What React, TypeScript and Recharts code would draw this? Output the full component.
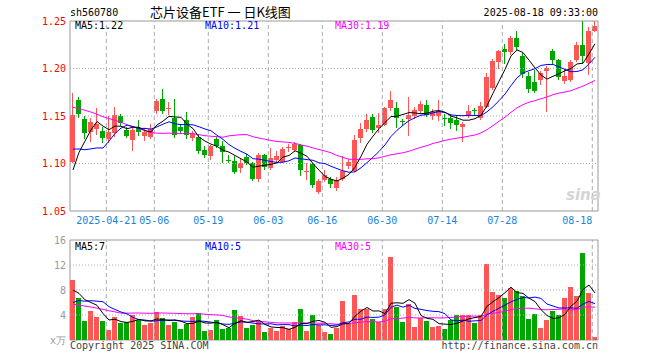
import React from "react";
import { ComposedChart, Bar, Line, XAxis, YAxis, ReferenceLine, ReferenceArea } from "recharts";

const MONO = "'DejaVu Sans Mono', monospace";
const RED = "#ff5555";
const GREEN = "#00a600";

const dates = [
  "04-11","04-14","04-15","04-16","04-17","04-18","04-21","04-22","04-23","04-24",
  "04-25","04-28","04-29","04-30","05-06","05-07","05-08","05-09","05-12","05-13",
  "05-14","05-15","05-16","05-19","05-20","05-21","05-22","05-23","05-26","05-27",
  "05-28","05-29","05-30","06-03","06-04","06-05","06-06","06-09","06-10","06-11",
  "06-12","06-13","06-16","06-17","06-18","06-19","06-20","06-23","06-24","06-25",
  "06-26","06-27","06-30","07-01","07-02","07-03","07-04","07-07","07-08","07-09",
  "07-10","07-11","07-14","07-15","07-16","07-17","07-18","07-21","07-22","07-23",
  "07-24","07-25","07-28","07-29","07-30","07-31","08-01","08-04","08-05","08-06",
  "08-07","08-08","08-11","08-12","08-13","08-14","08-15","08-18"
];

const opens = [
  1.102,1.167,1.147,1.133,1.136,1.134,1.126,1.132,1.150,1.135,
  1.125,1.137,1.129,1.128,1.155,1.168,1.157,1.148,1.138,1.146,
  1.127,1.128,1.114,1.108,1.126,1.118,1.104,1.103,1.095,1.107,
  1.100,1.084,1.109,1.095,1.104,1.102,1.116,1.114,1.119,1.091,
  1.099,1.070,1.083,1.084,1.074,1.084,1.097,1.092,1.127,1.136,
  1.149,1.137,1.141,1.158,1.158,1.145,1.147,1.150,1.155,1.162,
  1.150,1.150,1.148,1.148,1.146,1.138,1.150,1.156,1.148,1.160,
  1.180,1.207,1.221,1.217,1.232,1.213,1.192,1.186,1.188,1.197,
  1.218,1.209,1.187,1.188,1.209,1.225,1.206,1.240
];
const highs = [
  1.174,1.170,1.150,1.148,1.158,1.138,1.150,1.160,1.152,1.138,
  1.137,1.146,1.137,1.142,1.168,1.178,1.165,1.168,1.141,1.154,
  1.134,1.130,1.118,1.119,1.128,1.124,1.109,1.108,1.105,1.110,
  1.102,1.111,1.110,1.116,1.113,1.117,1.121,1.123,1.120,1.101,
  1.100,1.084,1.093,1.086,1.086,1.108,1.105,1.130,1.143,1.152,
  1.152,1.153,1.160,1.176,1.165,1.147,1.170,1.160,1.166,1.167,
  1.157,1.167,1.152,1.152,1.150,1.144,1.162,1.158,1.165,1.195,
  1.210,1.220,1.226,1.234,1.239,1.216,1.196,1.198,1.197,1.203,
  1.221,1.210,1.200,1.209,1.228,1.250,1.244,1.250
];
const lows = [
  1.100,1.148,1.126,1.123,1.130,1.122,1.122,1.128,1.140,1.127,
  1.113,1.129,1.124,1.126,1.152,1.152,1.151,1.127,1.131,1.126,
  1.124,1.110,1.106,1.104,1.116,1.101,1.101,1.089,1.090,1.098,
  1.082,1.080,1.093,1.093,1.101,1.100,1.112,1.112,1.087,1.083,
  1.074,1.068,1.080,1.074,1.071,1.082,1.094,1.091,1.122,1.133,
  1.132,1.132,1.139,1.155,1.137,1.139,1.129,1.147,1.152,1.149,
  1.146,1.145,1.140,1.136,1.134,1.123,1.148,1.150,1.146,1.158,
  1.177,1.200,1.205,1.214,1.220,1.190,1.174,1.174,1.183,1.154,
  1.205,1.188,1.184,1.186,1.207,1.205,1.193,1.238
];
const closes = [
  1.151,1.152,1.132,1.144,1.142,1.127,1.133,1.151,1.143,1.129,
  1.135,1.133,1.133,1.136,1.166,1.155,1.158,1.130,1.134,1.130,
  1.132,1.113,1.109,1.118,1.118,1.112,1.103,1.091,1.101,1.101,
  1.084,1.109,1.096,1.106,1.108,1.115,1.117,1.121,1.093,1.092,
  1.077,1.082,1.088,1.078,1.083,1.092,1.102,1.125,1.136,1.146,
  1.135,1.141,1.158,1.167,1.148,1.144,1.151,1.156,1.163,1.151,
  1.154,1.155,1.147,1.143,1.141,1.142,1.155,1.155,1.161,1.191,
  1.208,1.218,1.217,1.232,1.223,1.194,1.178,1.176,1.195,1.201,
  1.209,1.191,1.192,1.207,1.225,1.213,1.240,1.245
];
const volumes = [
  9.6,6.8,3.04,4.64,3.68,3.04,1.6,3.68,2.77,2.9,
  4.0,3.2,2.4,2.77,4.48,3.52,2.4,2.93,1.76,2.5,
  3.68,4.27,1.44,1.6,3.2,1.76,1.87,4.8,3.84,1.87,
  2.4,3.04,1.28,1.87,1.44,2.24,1.7,2.83,4.96,1.44,
  4.0,2.4,1.33,0.96,2.0,6.24,2.67,7.2,4.96,4.96,
  3.36,2.83,4.96,13.3,5.33,2.93,5.76,2.13,3.47,3.04,
  2.13,2.29,1.76,3.2,4.0,4.0,4.0,2.77,4.0,12.16,
  7.73,7.2,6.77,8.37,7.84,7.1,3.36,4.1,1.87,3.2,
  4.64,4.0,6.77,8.53,7.1,13.97,7.57,0.48
];

// estimated sessions before the first visible day (feed the moving averages)
const priorCloses = [
  1.185,1.19,1.20,1.21,1.205,1.195,1.20,1.21,1.205,1.20,1.195,1.19,1.195,1.19,
  1.160,1.150,1.145,1.135,1.130,1.130,
  1.150,1.140,1.135,1.132,1.128,
  1.060,1.072,1.085,1.098
];
const priorVolumes = [
  9.5,8.8,9.2,8.6,9.0,8.4,9.1,8.65,
  3.1,3.5,2.9,3.4,3.3,3.0,3.6,3.2,3.4,3.1,3.25,
  4.0,
  3.6,4.2,3.8,4.4,4.0,
  9.5,8.2,6.8,5.9
];

const tickDates = ["04-21","05-06","05-19","06-03","06-16","06-30","07-14","07-28","08-18"];
const tickLabels = ["2025-04-21","05-06","05-19","06-03","06-16","06-30","07-14","07-28","08-18"];
const priceTicks = [1.05, 1.10, 1.15, 1.20, 1.25];
const priceGridLines = [1.10, 1.15, 1.20];
const volTicks = [0, 4, 8, 12, 16];
const volGridLines = [4, 8, 12];
const priceLegend = ["MA5:1.22", "MA10:1.21", "MA30:1.19"];
const volLegend = ["MA5:7", "MA10:5", "MA30:5"];
const legendColors = ["#000000", "#0000ff", "#ff00ff"];

function movingAvg(series: number[], prior: number[], n: number) {
  const all = prior.concat(series);
  return series.map((_, i) => {
    const end = prior.length + i;
    let s = 0;
    for (let k = end - n + 1; k <= end; k++) s += all[k];
    return s / n;
  });
}

const ma5 = movingAvg(closes, priorCloses, 5);
const ma10 = movingAvg(closes, priorCloses, 10);
const ma30 = movingAvg(closes, priorCloses, 30);
const vma5 = movingAvg(volumes, priorVolumes, 5);
const vma10 = movingAvg(volumes, priorVolumes, 10);
const vma30 = movingAvg(volumes, priorVolumes, 30);

const rows = dates.map((d, i) => ({
  i,
  date: d,
  o: opens[i],
  h: highs[i],
  l: lows[i],
  c: closes[i],
  v: volumes[i],
  up: closes[i] >= opens[i],
  ma5: ma5[i],
  ma10: ma10[i],
  ma30: ma30[i],
  vma5: vma5[i],
  vma10: vma10[i],
  vma30: vma30[i],
}));

const N = dates.length;
const xDomain: [number, number] = [-0.5, N - 0.5];
const tickPos = tickDates.map((d) => dates.indexOf(d) - 0.45);

const Candle = (props: any) => {
  const { x, y, width, height, payload } = props;
  if (!payload) return null;
  const { o, h, l, c } = payload;
  const top0 = Math.min(y, y + height);
  const hh = Math.abs(height);
  const k = h - l > 0 ? hh / (h - l) : 0;
  const py = (p: number) => top0 + (h - p) * k;
  const color = c >= o ? RED : GREEN;
  const x0 = Math.floor(x + (width - 5) / 2);
  const cx = x0 + 2.5;
  const bt = Math.round(py(Math.max(o, c)));
  const bb = Math.round(py(Math.min(o, c)));
  return (
    <g shapeRendering="crispEdges">
      <line x1={cx} x2={cx} y1={Math.round(py(h))} y2={Math.round(py(l))} stroke={color} strokeWidth={1} />
      <rect x={x0} y={bt} width={5} height={Math.max(1, bb - bt)} fill={color} />
    </g>
  );
};

const VolBar = (props: any) => {
  const { x, y, width, height, payload } = props;
  if (!payload) return null;
  const x0 = Math.floor(x + (width - 5) / 2);
  const t = Math.round(Math.min(y, y + height));
  const b = Math.round(Math.max(y, y + height));
  return <rect x={x0} y={t} width={5} height={Math.max(0, b - t)} fill={payload.up ? RED : GREEN} shapeRendering="crispEdges" />;
};

const DateTick = (props: any) => {
  const { x, y, payload } = props;
  const idx = tickPos.indexOf(payload.value);
  const last = idx === tickPos.length - 1;
  return (
    <text x={x} y={y} dy="0.71em" textAnchor={last ? "end" : "middle"} fill="#1584dc" fontSize={10} fontFamily={MONO}>
      {tickLabels[idx]}
    </text>
  );
};

const txt = (left: number, top: number, s: string, color: string, extra: any = {}) => (
  <div
    style={{
      position: "absolute",
      left,
      top,
      fontFamily: MONO,
      fontSize: 10,
      lineHeight: "12px",
      color,
      whiteSpace: "pre",
      ...extra,
    }}
  >
    {s}
  </div>
);

export default function App() {
  return (
    <div style={{ position: "absolute", left: 0, top: 0, width: 660, height: 360, background: "#fff", overflow: "hidden", fontFamily: MONO }}>
      <div style={{ position: "absolute", left: 0, top: 0 }}>
        <ComposedChart width={660} height={230} data={rows} margin={{ top: 21, right: 62, bottom: 0, left: 0 }}>
          <XAxis
            dataKey="i"
            type="number"
            domain={xDomain}
            ticks={tickPos}
            interval={0}
            height={19}
            axisLine={false}
            tickLine={false}
            tickSize={4}
            tickMargin={2}
            tick={(p: any) => <DateTick {...p} />}
            allowDataOverflow
          />
          <YAxis
            type="number"
            domain={[1.05, 1.25]}
            ticks={priceTicks}
            interval={0}
            width={70}
            axisLine={false}
            tickLine={false}
            tickSize={0}
            tickMargin={4}
            tick={{ fill: "#ff0000", fontSize: 10, fontFamily: MONO }}
            tickFormatter={(v: number) => v.toFixed(2)}
            allowDataOverflow
          />
          {priceGridLines.map((v) => (
            <ReferenceLine key={"h" + v} y={v} stroke="#aaaaaa" strokeDasharray="1 2" />
          ))}
          {tickPos.map((v) => (
            <ReferenceLine key={"v" + v} x={v} stroke="#aaaaaa" strokeDasharray="4 3" />
          ))}
          <Bar dataKey={(d: any) => [d.l, d.h]} barSize={5} shape={(p: any) => <Candle {...p} />} isAnimationActive={false} />
          <Line dataKey="ma30" stroke="#ff00ff" strokeWidth={1} dot={false} activeDot={false} isAnimationActive={false} />
          <Line dataKey="ma10" stroke="#0000ff" strokeWidth={1} dot={false} activeDot={false} isAnimationActive={false} />
          <Line dataKey="ma5" stroke="#000000" strokeWidth={1} dot={false} activeDot={false} isAnimationActive={false} />
          <ReferenceArea x1={xDomain[0]} x2={xDomain[1]} y1={1.05} y2={1.25} fill="none" fillOpacity={0} stroke="#999999" strokeOpacity={1} />
        </ComposedChart>
      </div>
      <div style={{ position: "absolute", left: 0, top: 230 }}>
        <ComposedChart width={660} height={130} data={rows} margin={{ top: 10, right: 62, bottom: 20, left: 0 }}>
          <XAxis dataKey="i" type="number" domain={xDomain} ticks={tickPos} hide allowDataOverflow />
          <YAxis
            type="number"
            domain={[0, 16]}
            ticks={volTicks}
            interval={0}
            width={70}
            axisLine={false}
            tickLine={false}
            tickSize={0}
            tickMargin={4}
            tick={{ fill: "#999999", fontSize: 10, fontFamily: MONO }}
            tickFormatter={(v: number) => (v === 0 ? "x万" : String(v))}
            allowDataOverflow
          />
          {volGridLines.map((v) => (
            <ReferenceLine key={"vh" + v} y={v} stroke="#aaaaaa" strokeDasharray="1 2" />
          ))}
          {tickPos.map((v) => (
            <ReferenceLine key={"vv" + v} x={v} stroke="#aaaaaa" strokeDasharray="4 3" />
          ))}
          <Bar dataKey="v" barSize={5} shape={(p: any) => <VolBar {...p} />} isAnimationActive={false} />
          <Line dataKey="vma30" stroke="#ff00ff" strokeWidth={1} dot={false} activeDot={false} isAnimationActive={false} />
          <Line dataKey="vma10" stroke="#0000ff" strokeWidth={1} dot={false} activeDot={false} isAnimationActive={false} />
          <Line dataKey="vma5" stroke="#000000" strokeWidth={1} dot={false} activeDot={false} isAnimationActive={false} />
          <ReferenceArea x1={xDomain[0]} x2={xDomain[1]} y1={0} y2={16} fill="none" fillOpacity={0} stroke="#999999" strokeOpacity={1} />
        </ComposedChart>
      </div>

      {txt(70, 7, "sh560780", "#000")}
      <div style={{ position: "absolute", left: 150, top: 4, fontFamily: "'Noto Sans CJK SC', sans-serif", fontSize: 13, lineHeight: "16px", color: "#000", whiteSpace: "pre" }}>
        芯片设备ETF 一 日K线图
      </div>
      {txt(483, 7, "2025-08-18 09:33:00", "#000", { width: 115, textAlign: "right" })}

      {txt(75, 20, priceLegend[0], legendColors[0])}
      {txt(205, 20, priceLegend[1], legendColors[1])}
      {txt(335, 20, priceLegend[2], legendColors[2])}

      {txt(75, 241, volLegend[0], legendColors[0])}
      {txt(205, 241, volLegend[1], legendColors[1])}
      {txt(335, 241, volLegend[2], legendColors[2])}

      <div style={{ position: "absolute", left: 566, top: 186, fontFamily: "'DejaVu Sans', sans-serif", fontSize: 15, fontWeight: "bold", fontStyle: "italic", color: "#d4d4d4", lineHeight: "18px" }}>
        sina
      </div>

      {txt(70, 340, "Copyright 2025 SINA.COM", "#444")}
      {txt(398, 340, "http://finance.sina.com.cn", "#444", { width: 200, textAlign: "right" })}
    </div>
  );
}
